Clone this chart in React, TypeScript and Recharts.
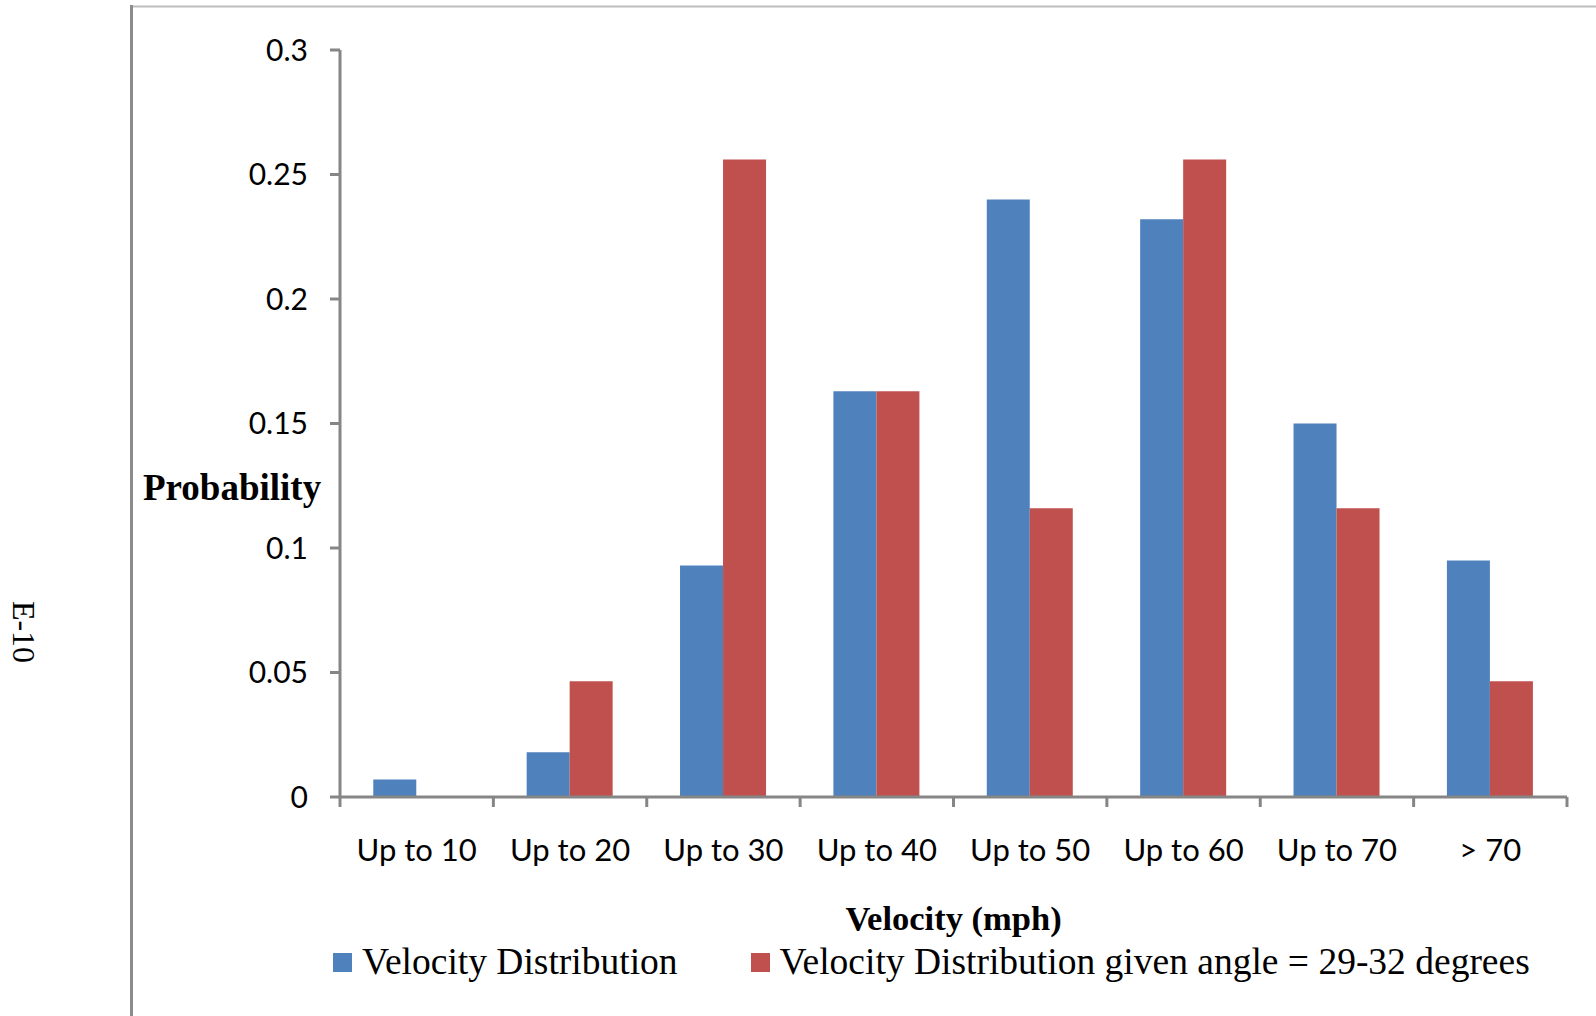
import React from 'react';
import { BarChart, Bar, XAxis, YAxis, Legend } from 'recharts';

// Velocity bins (mph)
const categories = ['Up to 10', 'Up to 20', 'Up to 30', 'Up to 40', 'Up to 50', 'Up to 60', 'Up to 70', '> 70'];
// Probability of each velocity bin, all impacts
const velocityAll = [0.007, 0.018, 0.093, 0.163, 0.24, 0.232, 0.15, 0.095];
// Probability of each velocity bin for impact angles of 29-32 degrees
const velocityAngle = [0, 0.0465, 0.256, 0.163, 0.116, 0.256, 0.116, 0.0465];
// Probability axis ticks
const probTicks = [0, 0.05, 0.1, 0.15, 0.2, 0.25, 0.3];

const seriesNames = ['Velocity Distribution', 'Velocity Distribution given angle = 29-32 degrees'];

const data = categories.map((cat, i) => ({
  cat,
  all: velocityAll[i],
  angle: velocityAngle[i],
}));

const CHART_W = 1596;
const CHART_H = 1016;
const MARGIN = { top: 50, right: 29, bottom: 119, left: 0 };
const Y_AXIS_W = 340;
const X_AXIS_H = 100;
const TICK_SIZE = 10;
const X_TICK_MARGIN = 32;
const AXIS_COLOR = '#868686';
const BLUE = '#4F81BD';
const RED = '#C0504D';
const SERIF = '"Liberation Serif", "Times New Roman", serif';
const SANS = 'Lato, "Open Sans", sans-serif';

// width of one category band on the x axis
const BAND = (CHART_W - MARGIN.left - MARGIN.right - Y_AXIS_W) / categories.length;

// Category label with tick marks on the band boundaries
function CategoryTick(props: any) {
  const { x, y, payload, index } = props;
  const axisY = y - TICK_SIZE - X_TICK_MARGIN;
  const left = x - BAND / 2;
  const right = x + BAND / 2;
  return (
    <g>
      <line x1={left} x2={left} y1={axisY} y2={axisY + TICK_SIZE} stroke={AXIS_COLOR} strokeWidth={3} />
      {index === categories.length - 1 && (
        <line x1={right} x2={right} y1={axisY} y2={axisY + TICK_SIZE} stroke={AXIS_COLOR} strokeWidth={3} />
      )}
      <text x={x} y={y} dy="0.71em" textAnchor="middle" fontFamily={SANS} fontSize={31} fill="#000">
        {payload.value}
      </text>
    </g>
  );
}

function LegendContent(props: any) {
  const { payload = [] } = props;
  return (
    <div
      style={{
        display: 'flex',
        alignItems: 'flex-start',
        fontFamily: SERIF,
        fontSize: 37.5,
        lineHeight: '37px',
        color: '#000',
        whiteSpace: 'nowrap',
      }}
    >
      {payload.map((entry: any, i: number) => (
        <div key={i} style={{ display: 'flex', alignItems: 'flex-start', marginRight: i === 0 ? 73 : 0 }}>
          <span
            style={{
              display: 'inline-block',
              width: 19,
              height: 19,
              marginTop: 10,
              marginRight: 10,
              background: entry.color,
            }}
          />
          <span>{entry.value}</span>
        </div>
      ))}
    </div>
  );
}

export default function App() {
  return (
    <div style={{ position: 'absolute', left: 0, top: 0, width: CHART_W, height: CHART_H, background: '#fff' }}>
      <BarChart
        width={CHART_W}
        height={CHART_H}
        data={data}
        margin={MARGIN}
        barCategoryGap="21.7%"
        barGap={0}
      >
        <XAxis
          dataKey="cat"
          height={X_AXIS_H}
          interval={0}
          tickSize={TICK_SIZE}
          tickMargin={X_TICK_MARGIN}
          tickLine={{ stroke: 'none' }}
          axisLine={{ stroke: AXIS_COLOR, strokeWidth: 3 }}
          tick={<CategoryTick />}
          label={{
            value: 'Velocity (mph)',
            content: (p: any) => {
              const vb = p.viewBox || {};
              return (
                <text
                  x={vb.x + vb.width / 2}
                  y={vb.y + 133}
                  textAnchor="middle"
                  fontFamily={SERIF}
                  fontWeight="bold"
                  fontSize={34.5}
                  fill="#000"
                >
                  Velocity (mph)
                </text>
              );
            },
          }}
        />
        <YAxis
          type="number"
          width={Y_AXIS_W}
          domain={[0, 0.3]}
          ticks={probTicks}
          interval={0}
          tickSize={TICK_SIZE}
          tickMargin={22}
          tickLine={{ stroke: AXIS_COLOR, strokeWidth: 3 }}
          axisLine={{ stroke: AXIS_COLOR, strokeWidth: 3 }}
          tick={{ fontFamily: SANS, fontSize: 30, fill: '#000' }}
          label={{
            value: 'Probability',
            content: (p: any) => {
              const vb = p.viewBox || {};
              return (
                <text
                  x={143}
                  y={vb.y + 450}
                  textAnchor="start"
                  fontFamily={SERIF}
                  fontWeight="bold"
                  fontSize={37}
                  fill="#000"
                >
                  Probability
                </text>
              );
            },
          }}
        />
        <Legend
          layout="horizontal"
          verticalAlign="middle"
          align="center"
          wrapperStyle={{ left: 333, top: 943, width: 'auto', bottom: 'auto' }}
          content={<LegendContent />}
        />
        <Bar dataKey="all" name={seriesNames[0]} fill={BLUE} isAnimationActive={false} />
        <Bar dataKey="angle" name={seriesNames[1]} fill={RED} isAnimationActive={false} />
      </BarChart>
      <svg
        width={CHART_W}
        height={CHART_H}
        style={{ position: 'absolute', left: 0, top: 0, pointerEvents: 'none' }}
      >
        <line x1={133} x2={CHART_W} y1={6.5} y2={6.5} stroke="#bdbdbd" strokeWidth={2} />
        <line x1={131.5} x2={131.5} y1={5} y2={CHART_H} stroke="#8c8c8c" strokeWidth={3} />
        <text
          x={24}
          y={632}
          transform="rotate(90 24 632)"
          textAnchor="middle"
          dominantBaseline="central"
          fontFamily={SERIF}
          fontSize={32}
          fill="#000"
        >
          E-10
        </text>
      </svg>
    </div>
  );
}
